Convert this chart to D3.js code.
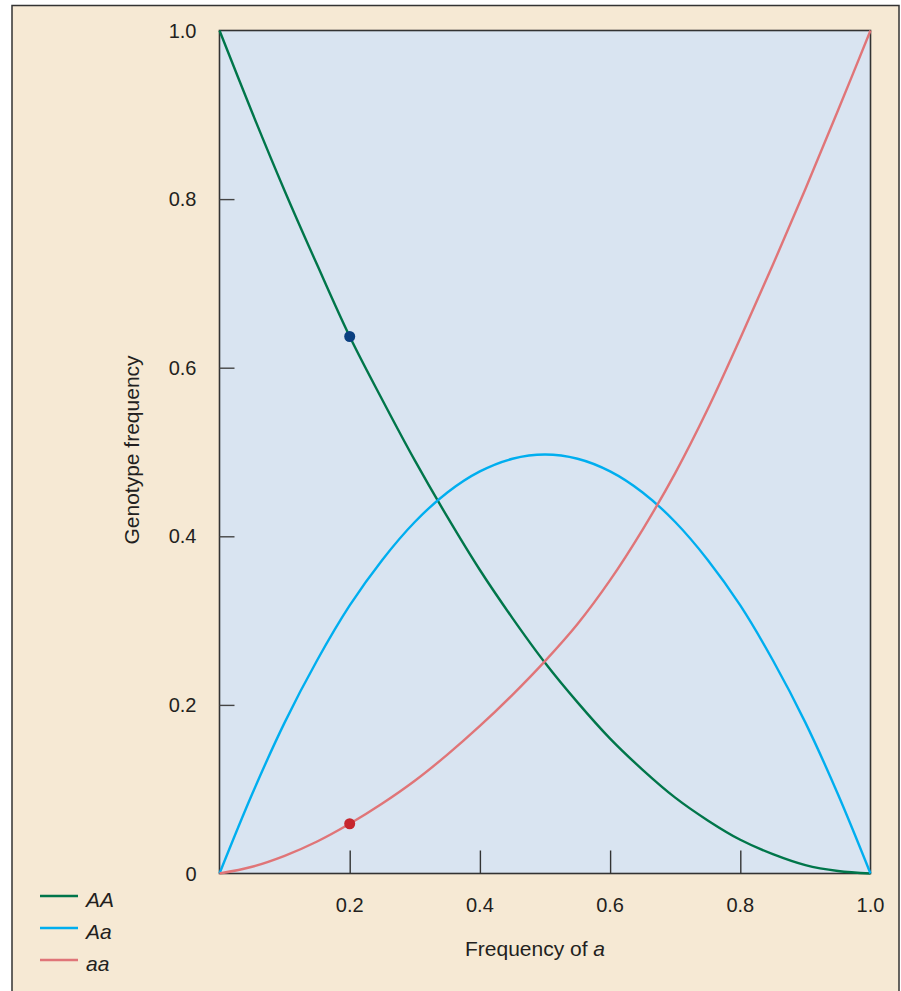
<!DOCTYPE html>
<html>
<head>
<meta charset="utf-8">
<script src="https://cdn.jsdelivr.net/npm/d3@7"></script>
<style>
html,body{margin:0;padding:0;background:#fff;}
svg{display:block;font-family:"Liberation Sans",Arial,sans-serif;}
</style>
</head>
<body>
<svg id="chart" width="901" height="991"></svg>
<script>
// Frequency of allele a (x positions of read points)
const freqA = [0,0.05,0.1,0.15,0.2,0.25,0.3,0.35,0.4,0.45,0.5,0.55,0.6,0.65,0.7,0.75,0.8,0.85,0.9,0.95,1.0];
// Genotype frequencies
const valuesAA = [1.0,0.903,0.810,0.722,0.637,0.562,0.490,0.423,0.360,0.303,0.250,0.203,0.160,0.123,0.090,0.063,0.040,0.023,0.010,0.003,0];
const valuesAa = [0,0.094,0.179,0.253,0.318,0.372,0.417,0.452,0.477,0.492,0.497,0.492,0.477,0.452,0.417,0.372,0.318,0.253,0.179,0.094,0];
const valuesaa = [0,0.008,0.021,0.038,0.059,0.083,0.110,0.141,0.175,0.212,0.252,0.296,0.348,0.408,0.475,0.551,0.635,0.722,0.812,0.905,1.0];
const seriesNames = ["AA","Aa","aa"];
const seriesColors = ["#00764a","#00aeef","#e07578"];
const highlightX = [0.2,0.2];
const highlightY = [0.637,0.059];
const highlightColors = ["#0b3f80","#c6262e"];
const yTicks = [0,0.2,0.4,0.6,0.8,1.0];
const yTickLabels = ["0","0.2","0.4","0.6","0.8","1.0"];
const xTicks = [0.2,0.4,0.6,0.8,1.0];
const xTickLabels = ["0.2","0.4","0.6","0.8","1.0"];
const xTitle = "Frequency of ";
const xTitleItalic = "a";
const yTitle = "Genotype frequency";

const svg = d3.select("#chart");
// outer panel
svg.append("rect").attr("x",0).attr("y",0).attr("width",901).attr("height",991).attr("fill","#ffffff");
svg.append("rect").attr("x",12).attr("y",5.5).attr("width",887).attr("height",1000)
  .attr("fill","#f6e9d4").attr("stroke","#333333").attr("stroke-width",1.5);

const L=219.5, R=870.5, T=30.5, B=873.5;
const x = d3.scaleLinear().domain([0,1]).range([L,R]);
const y = d3.scaleLinear().domain([0,1]).range([B,T]);

svg.append("rect").attr("x",L).attr("y",T).attr("width",R-L).attr("height",B-T)
  .attr("fill","#d9e4f1").attr("stroke","#333333").attr("stroke-width",1.6);

// ticks inside plot
const yAxis = d3.axisRight(y).tickValues(yTicks.slice(1,5)).tickSize(15).tickFormat("");
const gy = svg.append("g").attr("transform",`translate(${L},0)`).call(yAxis);
gy.select(".domain").remove();
gy.selectAll("line").attr("stroke","#444").attr("stroke-width",1.4);

const xAxis = d3.axisTop(x).tickValues(xTicks.slice(0,4)).tickSize(23).tickFormat("");
const gx = svg.append("g").attr("transform",`translate(0,${B})`).call(xAxis);
gx.select(".domain").remove();
gx.selectAll("line").attr("stroke","#333").attr("stroke-width",1.4);

// tick labels
svg.append("g").selectAll("text").data(yTicks).join("text")
  .attr("x",L-23).attr("y",d=>y(d)+7).attr("text-anchor","end")
  .attr("font-size",20).attr("fill","#231f20").text((d,i)=>yTickLabels[i]);
svg.append("g").selectAll("text").data(xTicks).join("text")
  .attr("x",d=>x(d)).attr("y",B+38).attr("text-anchor","middle")
  .attr("font-size",20).attr("fill","#231f20").text((d,i)=>xTickLabels[i]);

// axis titles
const xt = svg.append("text").attr("x",535).attr("y",B+82).attr("text-anchor","middle")
  .attr("font-size",21).attr("fill","#231f20");
xt.append("tspan").text(xTitle);
xt.append("tspan").attr("font-style","italic").text(xTitleItalic);
svg.append("text").attr("transform",`translate(139,${450}) rotate(-90)`)
  .attr("text-anchor","middle").attr("font-size",21).attr("fill","#231f20").text(yTitle);

// curves
const allSeries = [valuesAA,valuesAa,valuesaa];
const line = d3.line().x((d,i)=>x(freqA[i])).y(d=>y(d)).curve(d3.curveCatmullRom.alpha(0.5));
svg.append("g").selectAll("path").data(allSeries).join("path")
  .attr("d",d=>line(d)).attr("fill","none")
  .attr("stroke",(d,i)=>seriesColors[i]).attr("stroke-width",2.4);

// highlighted points
svg.append("g").selectAll("circle").data(highlightX).join("circle")
  .attr("cx",d=>x(d)).attr("cy",(d,i)=>y(highlightY[i])).attr("r",5.5)
  .attr("fill",(d,i)=>highlightColors[i]);

// legend
const lg = svg.append("g").selectAll("g").data(seriesNames).join("g")
  .attr("transform",(d,i)=>`translate(40,${896+i*32})`);
lg.append("line").attr("x1",0).attr("x2",38).attr("y1",0).attr("y2",0)
  .attr("stroke",(d,i)=>seriesColors[i]).attr("stroke-width",2.4);
lg.append("text").attr("x",46).attr("y",11).attr("font-size",21).attr("font-style","italic")
  .attr("fill","#231f20").text(d=>d);
</script>
</body>
</html>
